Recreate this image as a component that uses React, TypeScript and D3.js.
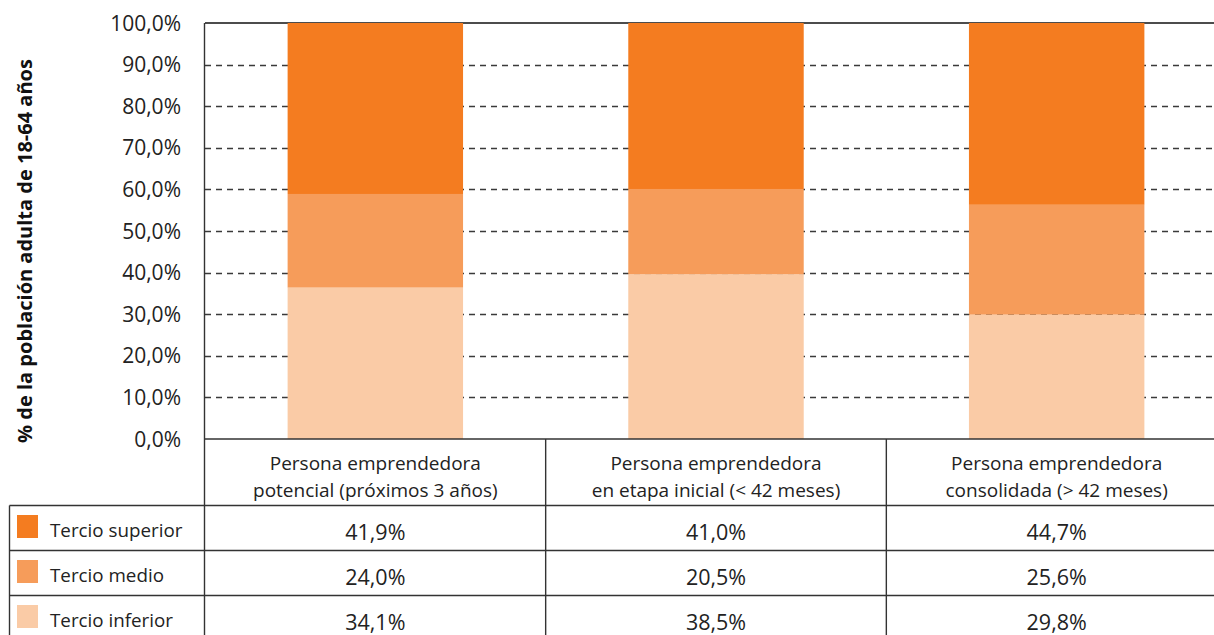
import React from "react";
import * as d3 from "d3";

const categories = [
  ["Persona emprendedora", "potencial (próximos 3 años)"],
  ["Persona emprendedora", "en etapa inicial (< 42 meses)"],
  ["Persona emprendedora", "consolidada (> 42 meses)"],
];
const seriesNames = ["Tercio superior", "Tercio medio", "Tercio inferior"];
// values as drawn by the bars
const barInferior = [36.4, 39.6, 29.9];
const barMedio = [22.5, 20.5, 26.4];
const barSuperior = [41.1, 39.9, 43.7];
// values printed in the data table
const tableSuperior = ["41,9%", "41,0%", "44,7%"];
const tableMedio = ["24,0%", "20,5%", "25,6%"];
const tableInferior = ["34,1%", "38,5%", "29,8%"];
const yTicks = [0, 10, 20, 30, 40, 50, 60, 70, 80, 90, 100];
const colors = ["#F47C20", "#F69C5A", "#FACBA6"];
const yTitle = "% de la población adulta de 18-64 años";

const W = 1214;
const H = 635;
const FONT = "'Open Sans', 'Noto Sans', sans-serif";

export default function App() {
  const left = 205;
  const right = 1227;
  const top = 23;
  const bottom = 439;
  const legendLeft = 9.5;
  const rowTops = [505.5, 550.5, 595.5];

  const x = d3.scaleBand<number>().domain([0, 1, 2]).range([left, right]).padding(0);
  const y = d3.scaleLinear().domain([0, 100]).range([bottom, top]);
  const barW = x.bandwidth() * 0.515;

  const stackData = [0, 1, 2].map((i) => ({
    inferior: barInferior[i],
    medio: barMedio[i],
    superior: barSuperior[i],
  }));
  const stack = d3.stack<any>().keys(["inferior", "medio", "superior"]);
  const series = stack(stackData);
  const segColor: Record<string, string> = {
    inferior: colors[2],
    medio: colors[1],
    superior: colors[0],
  };

  const tableRows = [tableSuperior, tableMedio, tableInferior];
  const lineColor = "#333";

  return (
    <svg
      width={W}
      height={H}
      style={{ position: "absolute", left: 0, top: 0, background: "#fff" }}
      fontFamily={FONT}
    >
      <rect x={0} y={0} width={W} height={H} fill="#fff" />
      {/* gridlines */}
      {yTicks
        .filter((t) => t > 0 && t < 100)
        .map((t) => (
          <line
            key={t}
            x1={left}
            x2={right}
            y1={Math.round(y(t)) + 0.5}
            y2={Math.round(y(t)) + 0.5}
            stroke="#3a3a3a"
            strokeWidth={1.3}
            strokeDasharray="6,5"
          />
        ))}
      {/* top border */}
      <line x1={left} x2={right} y1={top} y2={top} stroke="#111" strokeWidth={1.6} />
      {/* bars */}
      {series.map((s) =>
        s.map((d, i) => (
          <rect
            key={s.key + i}
            x={(x(i) as number) + (x.bandwidth() - barW) / 2}
            y={y(d[1])}
            width={barW}
            height={y(d[0]) - y(d[1])}
            fill={segColor[s.key]}
          />
        ))
      )}
      {/* tick labels */}
      {yTicks.map((t) => (
        <text
          key={t}
          x={181}
          y={y(t) + 7.5}
          textAnchor="end"
          fontSize={21}
          fill="#222"
        >
          {d3.format(".1f")(t).replace(".", ",") + "%"}
        </text>
      ))}
      {/* y title */}
      <text
        transform={`translate(32, 251) rotate(-90)`}
        textAnchor="middle"
        fontSize={20}
        fontWeight="bold"
        fill="#111"
      >
        {yTitle}
      </text>
      {/* table lines */}
      <line x1={left} x2={right} y1={bottom} y2={bottom} stroke={lineColor} strokeWidth={1.4} />
      {rowTops.map((rt) => (
        <line key={rt} x1={legendLeft} x2={right} y1={rt} y2={rt} stroke={lineColor} strokeWidth={1.4} />
      ))}
      <line x1={left - 0.5} x2={left - 0.5} y1={top} y2={H + 10} stroke={lineColor} strokeWidth={1.4} />
      <line x1={legendLeft} x2={legendLeft} y1={rowTops[0]} y2={H + 10} stroke={lineColor} strokeWidth={1.4} />
      {[1, 2].map((i) => (
        <line
          key={i}
          x1={x(i) as number}
          x2={x(i) as number}
          y1={bottom}
          y2={H + 10}
          stroke={lineColor}
          strokeWidth={1.4}
        />
      ))}
      {/* header */}
      {categories.map((c, i) => (
        <text
          key={i}
          x={(x(i) as number) + x.bandwidth() / 2}
          textAnchor="middle"
          fontSize={19}
          fill="#222"
        >
          <tspan x={(x(i) as number) + x.bandwidth() / 2} y={469.5}>
            {c[0]}
          </tspan>
          <tspan x={(x(i) as number) + x.bandwidth() / 2} y={496.7}>
            {c[1]}
          </tspan>
        </text>
      ))}
      {/* legend + values */}
      {seriesNames.map((name, r) => (
        <g key={name}>
          <rect x={17} y={rowTops[r] + 9.5} width={21} height={23} fill={colors[r]} />
          <text x={50} y={rowTops[r] + 31.2} fontSize={18.8} fill="#222">
            {name}
          </text>
          {tableRows[r].map((v, i) => (
            <text
              key={i}
              x={(x(i) as number) + x.bandwidth() / 2}
              y={rowTops[r] + 34.8}
              textAnchor="middle"
              fontSize={21.5}
              fill="#222"
            >
              {v}
            </text>
          ))}
        </g>
      ))}
    </svg>
  );
}
